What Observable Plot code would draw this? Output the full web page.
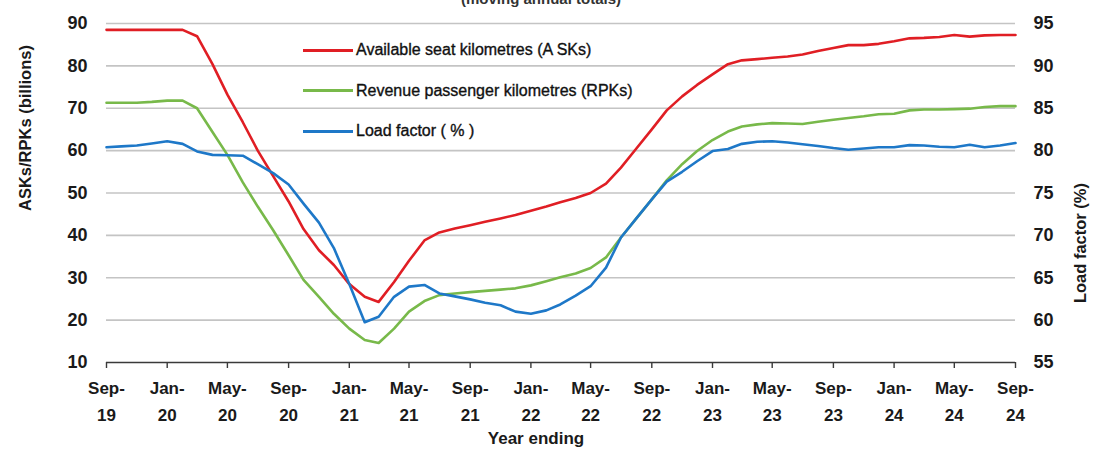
<!DOCTYPE html>
<html>
<head>
<meta charset="utf-8">
<script src="https://cdn.jsdelivr.net/npm/d3@7"></script>
<script src="https://cdn.jsdelivr.net/npm/@observablehq/plot@0.6"></script>
<style>
  html, body { margin: 0; padding: 0; background: #fff; overflow: hidden; }
  #wrap { position: relative; width: 1097px; height: 455px; font-family: "Liberation Sans", Arial, sans-serif; }
  #subtitle { position: absolute; top: -10px; left: 0; width: 1082px; text-align: center; font-size: 15px; font-weight: bold; color: #333; }
  #legend { position: absolute; left: 303px; top: 30px; font-size: 16px; color: #111; -webkit-text-stroke: 0.35px #111; }
  #legend .row { display: flex; align-items: center; height: 40.5px; }
  #legend .sw { width: 50px; height: 3px; margin-right: 3px; }
</style>
</head>
<body>
<div id="wrap">
  <div id="subtitle">(moving annual totals)</div>
  <div id="chart"></div>
  <div id="legend"></div>
</div>
<script>
// Monthly series, Sep-2019 .. Sep-2024 (year ending)
const startMonth = "2019-09-01";
const ask = [88.5, 88.5, 88.5, 88.5, 88.5, 88.5, 87.0, 80.4, 73.2, 66.7,
             60.0, 54.0, 48.0, 41.5, 36.5, 33.0, 28.5, 25.5, 24.3, 29.0,
             34.0, 38.8, 40.7, 41.6, 42.4, 43.2, 44.0, 44.8, 45.8, 46.8,
             47.8, 48.8, 50.0, 52.2, 56.0, 60.5, 65.0, 69.5, 72.8, 75.5,
             78.0, 80.4, 81.3, 81.6, 81.9, 82.2, 82.7, 83.5, 84.2, 84.9,
             84.9, 85.2, 85.8, 86.5, 86.6, 86.8, 87.3, 86.9, 87.2, 87.3, 87.3];
const rpk = [71.3, 71.3, 71.3, 71.5, 71.8, 71.8, 70.0, 64.4, 59.0, 52.5,
             46.8, 41.2, 35.3, 29.5, 25.5, 21.5, 18.0, 15.3, 14.6, 18.0,
             22.0, 24.5, 25.9, 26.3, 26.6, 26.9, 27.2, 27.5, 28.2, 29.2,
             30.1, 31.0, 32.3, 34.8, 39.5, 44.0, 48.5, 53.0, 56.8, 59.9,
             62.5, 64.5, 65.7, 66.2, 66.5, 66.4, 66.3, 66.8, 67.3, 67.7,
             68.1, 68.6, 68.7, 69.5, 69.7, 69.7, 69.8, 69.9, 70.3, 70.5, 70.5];
const loadFactor = [80.4, 80.5, 80.6, 80.85, 81.1, 80.8, 79.9, 79.5, 79.45, 79.4,
             78.4, 77.35, 76.0, 73.75, 71.5, 68.5, 64.25, 59.75, 60.4, 62.75,
             63.95, 64.15, 63.15, 62.8, 62.45, 62.05, 61.75, 61.0, 60.75, 61.15,
             61.85, 62.9, 64.0, 66.2, 69.75, 72.0, 74.25, 76.35, 77.5, 78.75,
             79.95, 80.2, 80.8, 81.05, 81.1, 80.95, 80.75, 80.55, 80.3, 80.1,
             80.25, 80.4, 80.4, 80.65, 80.6, 80.45, 80.4, 80.7, 80.4, 80.6, 80.9];
const leftTicks = [10, 20, 30, 40, 50, 60, 70, 80, 90];
const rightTicks = [55, 60, 65, 70, 75, 80, 85, 90, 95];
const xTickLabels = ["Sep-19","Jan-20","May-20","Sep-20","Jan-21","May-21","Sep-21","Jan-22",
                     "May-22","Sep-22","Jan-23","May-23","Sep-23","Jan-24","May-24","Sep-24"];
const seriesNames = ["Available seat kilometres (A SKs)", "Revenue passenger kilometres (RPKs)", "Load factor ( % )"];
const colors = ["#e01e24", "#78b94a", "#1e78c8"];
const leftTitle = "ASKs/RPKs (billions)";
const rightTitle = "Load factor (%)";
const xTitle = "Year ending";

// right axis (55..95) mapped onto left axis (10..90)
const lfToLeft = v => (v - 50) * 2;

const t0 = new Date(startMonth + "T00:00:00Z");
const months = ask.map((_, i) => d3.utcMonth.offset(t0, i));
const monIdx = {Jan:0,Feb:1,Mar:2,Apr:3,May:4,Jun:5,Jul:6,Aug:7,Sep:8,Oct:9,Nov:10,Dec:11};
const xTicks = xTickLabels.map(s => new Date(Date.UTC(2000 + +s.slice(4), monIdx[s.slice(0,3)], 1)));
const fmtX = d => { const s = xTickLabels[xTicks.findIndex(t => +t === +d)]; return s.slice(0,4) + "\n" + s.slice(4); };

const rows = [];
months.forEach((m, i) => {
  rows.push({date: m, v: ask[i], s: seriesNames[0]});
  rows.push({date: m, v: rpk[i], s: seriesNames[1]});
  rows.push({date: m, v: lfToLeft(loadFactor[i]), s: seriesNames[2]});
});

const txt = "#1a1a1a";
const chart = Plot.plot({
  width: 1097,
  height: 455,
  marginLeft: 106,
  marginRight: 82,
  marginTop: 23,
  marginBottom: 93,
  style: {fontFamily: "'Liberation Sans', Arial, sans-serif", background: "transparent", overflow: "visible"},
  x: {type: "utc", domain: [months[0], months[months.length - 1]]},
  y: {domain: [10, 90]},
  color: {domain: seriesNames, range: colors},
  marks: [
    Plot.gridY(leftTicks.slice(1), {stroke: "#c4c4c4", strokeOpacity: 1, strokeWidth: 1.6}),
    Plot.axisY(leftTicks, {tickSize: 0, tickPadding: 19, fontSize: 18, fontWeight: "bold", fill: txt, label: null}),
    Plot.axisY(rightTicks.map(lfToLeft), {anchor: "right", tickSize: 0, tickPadding: 18, fontSize: 18, fontWeight: "bold", fill: txt,
      tickFormat: v => String(v / 2 + 50), label: null}),
    Plot.ruleY([10], {stroke: "#3a3a3a", strokeWidth: 1.6}),
    Plot.axisX(xTicks, {tickSize: 6, tickPadding: 6, stroke: "#3a3a3a", strokeWidth: 1.4, fontSize: 17, fontWeight: "bold", fill: txt,
      lineHeight: 1.6, tickFormat: fmtX, label: null}),
    Plot.line(rows, {x: "date", y: "v", z: "s", stroke: "s", strokeWidth: 2.6, curve: "linear"}),
    Plot.text([leftTitle], {frameAnchor: "left", rotate: -90, dx: -81, dy: 18, fontSize: 16.5, fontWeight: "bold", fill: txt}),
    Plot.text([rightTitle], {frameAnchor: "right", rotate: -90, dx: 65, dy: -10, fontSize: 16.5, fontWeight: "bold", fill: txt}),
    Plot.text([xTitle], {frameAnchor: "bottom", dx: -25, dy: 81, fontSize: 17, fontWeight: "bold", fill: txt})
  ]
});
document.getElementById("chart").appendChild(chart);

const legend = document.getElementById("legend");
seriesNames.forEach((n, i) => {
  const r = document.createElement("div");
  r.className = "row";
  r.innerHTML = `<div class="sw" style="background:${colors[i]}"></div><span>${n}</span>`;
  legend.appendChild(r);
});
</script>
</body>
</html>
